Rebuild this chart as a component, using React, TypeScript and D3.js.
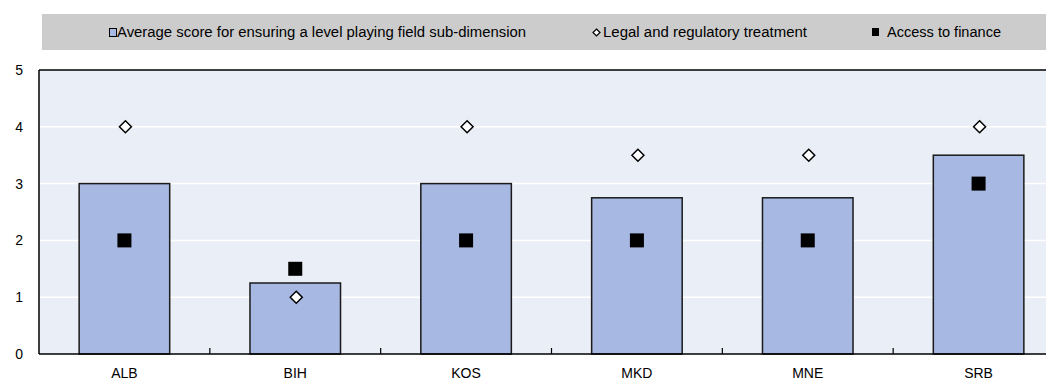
import React from "react";
import * as d3 from "d3";

const categories = ["ALB", "BIH", "KOS", "MKD", "MNE", "SRB"];
const averageScore = [3, 1.25, 3, 2.75, 2.75, 3.5];
const legalTreatment = [4, 1, 4, 3.5, 3.5, 4];
const accessFinance = [2, 1.5, 2, 2, 2, 3];
const yTicks = [0, 1, 2, 3, 4, 5];
const legendLabels = [
  "Average score for ensuring a level playing field sub-dimension",
  "Legal and regulatory treatment",
  "Access to finance",
];

const W = 1046;
const H = 382;
const FONT = "'Liberation Sans', Arial, sans-serif";

export default function App() {
  const x = d3
    .scaleBand<string>()
    .domain(categories)
    .range([39, 1064])
    .paddingInner(0.47)
    .paddingOuter(0.235);
  const y = d3.scaleLinear().domain([0, 5]).range([354, 70]);
  const bw = x.bandwidth();
  const step = x.step();

  const diamond = (cx: number, cy: number, r: number) =>
    `M${cx},${cy - r}L${cx + r},${cy}L${cx},${cy + r}L${cx - r},${cy}Z`;

  return (
    <svg
      width={W}
      height={H}
      style={{ position: "absolute", left: 0, top: 0, fontFamily: FONT }}
    >
      {/* legend */}
      <rect x={42} y={14} width={W - 42} height={36} fill="#CCCCCC" />
      <rect x={109.5} y={28.5} width={7} height={8} fill="#A7B8E2" stroke="#000" strokeWidth={1} />
      <text x={117} y={37} fontSize={14} textLength={409} lengthAdjust="spacingAndGlyphs" fill="#000">
        {legendLabels[0]}
      </text>
      <path d={diamond(596.5, 32.5, 3.5)} fill="#fff" stroke="#000" strokeWidth={1.2} />
      <text x={603} y={37} fontSize={14} textLength={204} lengthAdjust="spacingAndGlyphs" fill="#000">
        {legendLabels[1]}
      </text>
      <rect x={872} y={28} width={7} height={8} fill="#000" />
      <text x={887} y={37} fontSize={14} textLength={114} lengthAdjust="spacingAndGlyphs" fill="#000">
        {legendLabels[2]}
      </text>

      {/* plot background */}
      <rect x={39} y={y(5)} width={1064 - 39} height={y(0) - y(5)} fill="#EAEEF7" />
      {yTicks
        .filter((t) => t > 0 && t < 5)
        .map((t) => (
          <line key={t} x1={39} x2={1064} y1={y(t)} y2={y(t)} stroke="#fff" strokeWidth={1.5} />
        ))}

      {/* bars */}
      {categories.map((c, i) => (
        <rect
          key={c}
          x={x(c)!}
          y={y(averageScore[i])}
          width={bw}
          height={y(0) - y(averageScore[i])}
          fill="#A7B8E2"
          stroke="#1a1a1a"
          strokeWidth={1.5}
        />
      ))}

      {/* diamonds */}
      {categories.map((c, i) => (
        <path
          key={c}
          d={diamond(x(c)! + bw / 2 + 1, y(legalTreatment[i]), 6)}
          fill="#fff"
          stroke="#000"
          strokeWidth={1.5}
        />
      ))}

      {/* squares */}
      {categories.map((c, i) => (
        <rect
          key={c}
          x={x(c)! + bw / 2 - 7}
          y={y(accessFinance[i]) - 7}
          width={14}
          height={14}
          fill="#000"
        />
      ))}

      {/* axes */}
      <line x1={39} x2={1064} y1={y(5)} y2={y(5)} stroke="#000" strokeWidth={1.5} />
      <line x1={39} x2={39} y1={y(5)} y2={y(0)} stroke="#000" strokeWidth={1.5} />
      <line x1={39} x2={1064} y1={y(0)} y2={y(0)} stroke="#000" strokeWidth={1.5} />
      {categories.slice(1).map((c) => (
        <line
          key={c}
          x1={x(c)! - (step - bw) / 2}
          x2={x(c)! - (step - bw) / 2}
          y1={y(0)}
          y2={y(0) - 6}
          stroke="#000"
          strokeWidth={1.2}
        />
      ))}
      {yTicks.map((t) => (
        <text key={t} x={23} y={y(t)} dy="0.36em" textAnchor="end" fontSize={14} fill="#000">
          {t}
        </text>
      ))}
      {categories.map((c) => (
        <text key={c} x={x(c)! + bw / 2} y={378} textAnchor="middle" fontSize={14} fill="#000">
          {c}
        </text>
      ))}
    </svg>
  );
}
